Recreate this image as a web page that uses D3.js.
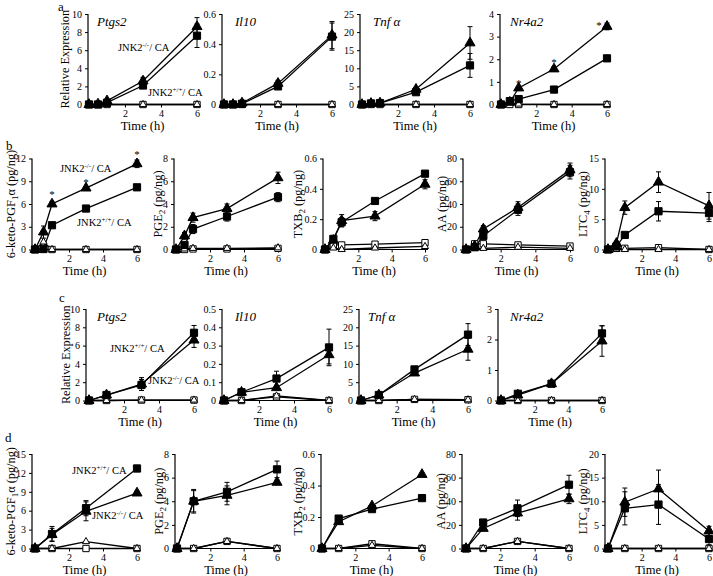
<!DOCTYPE html>
<html>
<head>
<meta charset="utf-8">
<script src="https://cdn.jsdelivr.net/npm/d3@7"></script>
<style>
  body { margin: 0; background: #fff; }
  svg text { font-family: "Liberation Serif", "DejaVu Serif", "Times New Roman", serif; fill: #000; }
</style>
</head>
<body>
<svg id="fig" width="713" height="576" font-family="Liberation Serif, DejaVu Serif, serif"></svg>
<script>
// time points
const timesAB = [0, 0.5, 1, 3, 6];
const timesCD = [0, 1, 3, 6];
const xTicks = [2, 4, 6];

// y tick labels
const ticks10 = [0, 2, 4, 6, 8, 10];
const ticks06 = [0, 0.2, 0.4, 0.6];
const ticks05 = [0, 0.1, 0.2, 0.3, 0.4, 0.5];
const ticks25 = [0, 5, 10, 15, 20, 25];
const ticks4 = [0, 1, 2, 3, 4];
const ticks3 = [0, 1, 2, 3];
const ticks12 = [0, 3, 6, 9, 12];
const ticks15s3 = [0, 3, 6, 9, 12, 15];
const ticks8 = [0, 2, 4, 6, 8];
const ticks80 = [0, 20, 40, 60, 80];
const ticks15 = [0, 5, 10, 15];
const ticks20 = [0, 5, 10, 15, 20];

const zeros5 = [0, 0, 0, 0, 0];
const zeros4 = [0, 0, 0, 0];

// ---- a: expression, JNK2+/+ vs JNK2-/- macrophages ----
const aPtgs2Wt = [0, 0, 0.2, 2.1, 7.6],      aPtgs2WtErr = [0, 0, 0.1, 0.3, 1.3];
const aPtgs2Ko = [0, 0.05, 0.4, 2.6, 8.6],   aPtgs2KoErr = [0, 0, 0.1, 0.4, 1.0];
const aIl10Wt = [0, 0, 0.005, 0.12, 0.45],   aIl10WtErr = [0, 0, 0, 0.02, 0.09];
const aIl10Ko = [0, 0, 0.01, 0.14, 0.46],    aIl10KoErr = [0, 0, 0, 0.02, 0.09];
const aTnfWt = [0, 0.3, 0.4, 3.4, 10.8],     aTnfWtErr = [0, 0, 0, 0.5, 3.3];
const aTnfKo = [0, 0.3, 0.4, 4.2, 17],       aTnfKoErr = [0, 0, 0, 0.5, 4.5];
const aNr4a2Wt = [0, 0.15, 0.24, 0.66, 2.04], aNr4a2WtErr = [0, 0, 0.03, 0.03, 0.05];
const aNr4a2Ko = [0, 0.1, 0.73, 1.57, 3.45],  aNr4a2KoErr = [0, 0, 0.06, 0.1, 0.15];
const aNr4a2KoCtl = [0, 0.08, 0.02, 0, 0];

// ---- b: eicosanoids ----
const bKetoWt = [0, 0.1, 3.2, 5.4, 8.2],     bKetoWtErr = [0, 0, 0.2, 0.2, 0.2];
const bKetoKo = [0, 2.3, 6.0, 8.1, 11.3],    bKetoKoErr = [0, 0.8, 0.3, 0.2, 0.5];
const bKetoKoCtl = [0, 1.0, 0, 0, 0];
const bPge2Wt = [0, 0.4, 1.8, 2.9, 4.6],     bPge2WtErr = [0, 0.2, 0.4, 0.4, 0.4];
const bPge2Ko = [0, 1.2, 2.8, 3.6, 6.3],     bPge2KoErr = [0, 0.3, 0.4, 0.4, 0.5];
const bPge2WtCtl = [0, 0, 0.05, 0.05, 0.1],  bPge2KoCtl = [0, 0.05, 0.1, 0.1, 0.15];
const bTxb2Wt = [0, 0.07, 0.18, 0.32, 0.5],  bTxb2WtErr = [0, 0.02, 0.03, 0.01, 0.01];
const bTxb2Ko = [0, 0.06, 0.19, 0.22, 0.43], bTxb2KoErr = [0, 0.02, 0.04, 0.03, 0.03];
const bTxb2WtCtl = [0, 0.03, 0.03, 0.035, 0.045], bTxb2KoCtl = [0, 0.01, 0, 0.01, 0.02];
const bAaWt = [0, 2, 12, 35, 68],            bAaWtErr = [0, 1, 2, 5, 6];
const bAaKo = [0, 3, 18, 37, 70],            bAaKoErr = [0, 1, 3, 5, 6];
const bAaWtCtl = [0, 5, 5, 4, 3],            bAaKoCtl = [0, 1, 1, 2, 1];
const bLtc4Wt = [0, 0.5, 2.4, 6.3, 6.0],     bLtc4WtErr = [0, 0.2, 0.3, 1.6, 1.4];
const bLtc4Ko = [0, 1.0, 6.9, 11.1, 7.2],    bLtc4KoErr = [0, 0.3, 1.1, 1.7, 2.2];
const bLtc4WtCtl = [0, 0.2, 0.2, 0.3, 0];

// ---- c: expression ----
const cPtgs2Wt = [0, 0.6, 1.7, 7.4],   cPtgs2WtErr = [0, 0.1, 0.6, 0.8];
const cPtgs2Ko = [0, 0.6, 1.8, 6.6],   cPtgs2KoErr = [0, 0.1, 0.7, 0.8];
const cPtgs2Ctl = [0, 0, 0.05, 0.05];
const cIl10Wt = [0, 0.045, 0.12, 0.29], cIl10WtErr = [0, 0.003, 0.04, 0.1];
const cIl10Ko = [0, 0.045, 0.07, 0.25], cIl10KoErr = [0, 0.003, 0.01, 0.05];
const cIl10WtCtl = [0, 0, 0.02, 0],     cIl10KoCtl = [0, 0, 0.025, 0];
const cTnfWt = [0, 1.5, 8.5, 18],       cTnfWtErr = [0, 0.3, 0.5, 3];
const cTnfKo = [0, 1.5, 7.5, 14],       cTnfKoErr = [0, 0.3, 0.5, 3];
const cTnfCtl = [0, 0, 0.3, 0.2];
const cNr4a2Wt = [0, 0.22, 0.55, 2.2],  cNr4a2WtErr = [0, 0.03, 0.03, 0.25];
const cNr4a2Ko = [0, 0.18, 0.55, 1.95], cNr4a2KoErr = [0, 0.03, 0.03, 0.5];

// ---- d: eicosanoids ----
const dKetoWt = [0, 2.3, 6.4, 12.7],   dKetoWtErr = [0, 1.2, 1.2, 0.5];
const dKetoKo = [0, 2.2, 5.9, 8.8],    dKetoKoErr = [0, 1.0, 1.5, 0.3];
const dKetoKoCtl = [0, 0, 1.1, 0];
const dPge2Wt = [0, 4.0, 4.8, 6.7],    dPge2WtErr = [0, 1.0, 0.8, 0.7];
const dPge2Ko = [0, 4.0, 4.5, 5.6],    dPge2KoErr = [0, 0.9, 0.8, 0.2];
const dPge2Ctl = [0, 0, 0.6, 0];
const dTxb2Wt = [0, 0.19, 0.25, 0.32], dTxb2WtErr = [0, 0.01, 0.01, 0.01];
const dTxb2Ko = [0, 0.17, 0.27, 0.47], dTxb2KoErr = [0, 0.01, 0.01, 0.01];
const dTxb2WtCtl = [0, 0, 0.03, 0],    dTxb2KoCtl = [0, 0, 0.02, 0];
const dAaWt = [0, 22, 34, 54],         dAaWtErr = [0, 2, 7, 8];
const dAaKo = [0, 17, 30, 42],         dAaKoErr = [0, 2, 6, 4];
const dAaCtl = [0, 0, 6, 0];
const dLtc4Wt = [0, 8.5, 9.3, 2.0],    dLtc4WtErr = [0, 3.5, 4.2, 1.2];
const dLtc4Ko = [0, 9.8, 12.6, 3.7],   dLtc4KoErr = [0, 3, 4, 1];

// helper to bundle the four series of a panel
function sets(wt, wtErr, ko, koErr, wtCtl, koCtl) {
  return { wtCtl: wtCtl, koCtl: koCtl, koCA: ko, koErr: koErr, wtCA: wt, wtErr: wtErr };
}

const rowA = { y0: 104.5, yTop: 14 };
const rowB = { y0: 249.5, yTop: 158.5 };
const rowC = { y0: 400.5, yTop: 309 };
const rowD = { y0: 548.5, yTop: 454 };

const ketoLabel = [["6-keto-PGF"], ["1", "sub"], ["\u03b1 (pg/ng)"]];
const pge2Label = [["PGE"], ["2", "sub"], [" (pg/ng)"]];
const txb2Label = [["TXB"], ["2", "sub"], [" (pg/ng)"]];
const aaLabel = [["AA (pg/ng)"]];
const ltc4Label = [["LTC"], ["4", "sub"], [" (pg/ng)"]];
const exprLabel = [["Relative Expression"]];

const panels = [
  // row a
  { row: rowA, ax: 88, x0: 89, x6: 197, t: timesAB, yTicks: ticks10, ylab: exprLabel, lx: 69, gene: "Ptgs2", gx: 97,
    s: sets(aPtgs2Wt, aPtgs2WtErr, aPtgs2Ko, aPtgs2KoErr, zeros5, zeros5) },
  { row: rowA, ax: 222, x0: 224, x6: 332, t: timesAB, yTicks: ticks06, gene: "Il10", gx: 235,
    s: sets(aIl10Wt, aIl10WtErr, aIl10Ko, aIl10KoErr, zeros5, zeros5) },
  { row: rowA, ax: 360, x0: 362, x6: 470, t: timesAB, yTicks: ticks25, gene: "Tnf \u03b1", gx: 373,
    s: sets(aTnfWt, aTnfWtErr, aTnfKo, aTnfKoErr, zeros5, zeros5) },
  { row: rowA, ax: 500, x0: 501, x6: 607, t: timesAB, yTicks: ticks4, gene: "Nr4a2", gx: 510,
    s: sets(aNr4a2Wt, aNr4a2WtErr, aNr4a2Ko, aNr4a2KoErr, zeros5, aNr4a2KoCtl),
    stars: [[1, 0.73, 0, -6], [3, 1.57, 0, -8], [6, 3.45, -8, -2]] },
  // row b
  { row: rowB, ax: 32, x0: 35, x6: 137, t: timesAB, yTicks: ticks12, ylab: ketoLabel, lx: 15,
    s: sets(bKetoWt, bKetoWtErr, bKetoKo, bKetoKoErr, zeros5, bKetoKoCtl),
    stars: [[1, 6.0, 0, -11], [3, 8.1, 0, -7], [6, 11.3, 0, -11]] },
  { row: rowB, ax: 174, x0: 176, x6: 278, t: timesAB, yTicks: ticks8, ylab: pge2Label, lx: 162,
    s: sets(bPge2Wt, bPge2WtErr, bPge2Ko, bPge2KoErr, bPge2WtCtl, bPge2KoCtl) },
  { row: rowB, ax: 323, x0: 325, x6: 425, t: timesAB, yTicks: ticks06, ylab: txb2Label, lx: 302,
    s: sets(bTxb2Wt, bTxb2WtErr, bTxb2Ko, bTxb2KoErr, bTxb2WtCtl, bTxb2KoCtl) },
  { row: rowB, ax: 463, x0: 466, x6: 570, t: timesAB, yTicks: ticks80, ylab: aaLabel, lx: 446,
    s: sets(bAaWt, bAaWtErr, bAaKo, bAaKoErr, bAaWtCtl, bAaKoCtl) },
  { row: rowB, ax: 605, x0: 608, x6: 709, t: timesAB, yTicks: ticks15, ylab: ltc4Label, lx: 587,
    s: sets(bLtc4Wt, bLtc4WtErr, bLtc4Ko, bLtc4KoErr, bLtc4WtCtl, zeros5) },
  // row c
  { row: rowC, ax: 86, x0: 89, x6: 194, t: timesCD, yTicks: ticks10, ylab: exprLabel, lx: 70, gene: "Ptgs2", gx: 97,
    s: sets(cPtgs2Wt, cPtgs2WtErr, cPtgs2Ko, cPtgs2KoErr, cPtgs2Ctl, cPtgs2Ctl) },
  { row: rowC, ax: 222, x0: 224, x6: 329, t: timesCD, yTicks: ticks05, gene: "Il10", gx: 235,
    s: sets(cIl10Wt, cIl10WtErr, cIl10Ko, cIl10KoErr, cIl10WtCtl, cIl10KoCtl) },
  { row: rowC, ax: 359, x0: 361, x6: 468, t: timesCD, yTicks: ticks25, gene: "Tnf \u03b1", gx: 368,
    s: sets(cTnfWt, cTnfWtErr, cTnfKo, cTnfKoErr, cTnfCtl, cTnfCtl) },
  { row: rowC, ax: 498, x0: 501, x6: 602, t: timesCD, yTicks: ticks3, gene: "Nr4a2", gx: 510,
    s: sets(cNr4a2Wt, cNr4a2WtErr, cNr4a2Ko, cNr4a2KoErr, zeros4, zeros4) },
  // row d
  { row: rowD, ax: 32, x0: 35, x6: 137, t: timesCD, yTicks: ticks15s3, ylab: ketoLabel, lx: 15,
    s: sets(dKetoWt, dKetoWtErr, dKetoKo, dKetoKoErr, zeros4, dKetoKoCtl) },
  { row: rowD, ax: 175, x0: 177, x6: 277, t: timesCD, yTicks: ticks8, ylab: pge2Label, lx: 163,
    s: sets(dPge2Wt, dPge2WtErr, dPge2Ko, dPge2KoErr, dPge2Ctl, dPge2Ctl) },
  { row: rowD, ax: 321, x0: 322, x6: 422, t: timesCD, yTicks: ticks06, ylab: txb2Label, lx: 302,
    s: sets(dTxb2Wt, dTxb2WtErr, dTxb2Ko, dTxb2KoErr, dTxb2WtCtl, dTxb2KoCtl) },
  { row: rowD, ax: 462, x0: 466, x6: 569, t: timesCD, yTicks: ticks80, ylab: aaLabel, lx: 445,
    s: sets(dAaWt, dAaWtErr, dAaKo, dAaKoErr, dAaCtl, dAaCtl) },
  { row: rowD, ax: 605, x0: 608, x6: 709, t: timesCD, yTicks: ticks20, ylab: ltc4Label, lx: 587,
    s: sets(dLtc4Wt, dLtc4WtErr, dLtc4Ko, dLtc4KoErr, zeros4, zeros4) }
];

// marker looks for each series
const markers = {
  wtCtl: { type: d3.symbolSquare, size: 40, fill: "#fff" },
  koCtl: { type: d3.symbolTriangle, size: 22, fill: "#fff" },
  koCA: { type: d3.symbolTriangle, size: 44, fill: "#000" },
  wtCA: { type: d3.symbolSquare, size: 52, fill: "#000" }
};
const order = ["wtCtl", "koCtl", "koCA", "wtCA"];
const serif = "Liberation Serif, DejaVu Serif, serif";

let svg = d3.select("#fig");

function drawPanel(p) {
  let y0 = p.row.y0, yTop = p.row.yTop;
  let yMax = p.yTicks[p.yTicks.length - 1];
  let x = d3.scaleLinear().domain([0, 6]).range([p.x0, p.x6]);
  let y = d3.scaleLinear().domain([0, yMax]).range([y0, yTop]);
  let g = svg.append("g");

  // y axis
  let yAxis = g.append("g")
    .attr("transform", `translate(${p.ax},0)`)
    .call(d3.axisLeft(y).tickValues(p.yTicks).tickSize(3).tickPadding(3).tickFormat(d3.format("~g")));
  // x axis
  let xAxis = g.append("g")
    .attr("transform", `translate(0,${y0})`)
    .call(d3.axisBottom(x).tickValues(xTicks).tickSize(3).tickPadding(2).tickFormat(d3.format("~g")));
  [yAxis, xAxis].forEach(a => {
    a.select(".domain").remove();
    a.attr("font-family", serif).attr("font-size", 10);
    a.selectAll("line").attr("stroke", "#000");
  });
  g.append("line").attr("x1", p.ax).attr("x2", p.ax).attr("y1", yTop).attr("y2", y0)
    .attr("stroke", "#000").attr("stroke-width", 1.2);
  g.append("line").attr("x1", p.ax).attr("x2", x(6) + 3).attr("y1", y0).attr("y2", y0)
    .attr("stroke", "#000").attr("stroke-width", 1.2);

  // x axis title
  g.append("text")
    .attr("x", (p.ax + x(6)) / 2).attr("y", y0 + 25)
    .attr("text-anchor", "middle").attr("font-size", 12.5).attr("font-family", serif)
    .text("Time (h)");

  // y axis title
  if (p.ylab) {
    let lab = g.append("text")
      .attr("transform", `translate(${p.lx},${(y0 + yTop) / 2}) rotate(-90)`)
      .attr("text-anchor", "middle").attr("font-size", 12.3).attr("font-family", serif);
    p.ylab.forEach(part => {
      let ts = lab.append("tspan").text(part[0]);
      if (part[1] === "sub") ts.attr("font-size", 9).attr("dy", 3);
      else if (lab.selectAll("tspan").size() > 1) ts.attr("dy", -3);
    });
  }

  // gene name
  if (p.gene) {
    g.append("text").attr("x", p.gx).attr("y", yTop + 12).attr("font-family", serif)
      .attr("font-size", 13).attr("font-style", "italic").text(p.gene);
  }

  let line = d3.line().x((d, i) => x(p.t[i])).y(d => y(d));

  // lines
  order.forEach(k => {
    g.append("path").datum(p.s[k])
      .attr("d", line).attr("fill", "none")
      .attr("stroke", "#000").attr("stroke-width", 1.3);
  });

  // error bars
  [["koCA", "koErr"], ["wtCA", "wtErr"]].forEach(([k, e]) => {
    p.s[k].forEach((v, i) => {
      let err = p.s[e][i];
      if (!err) return;
      let cx = x(p.t[i]);
      let lo = y(v - err), hi = y(v + err);
      g.append("line").attr("x1", cx).attr("x2", cx).attr("y1", lo).attr("y2", hi)
        .attr("stroke", "#000").attr("stroke-width", 1);
      [lo, hi].forEach(yy => {
        g.append("line").attr("x1", cx - 2.5).attr("x2", cx + 2.5).attr("y1", yy).attr("y2", yy)
          .attr("stroke", "#000").attr("stroke-width", 1);
      });
    });
  });

  // markers
  order.forEach(k => {
    let m = markers[k];
    g.selectAll(null).data(p.s[k]).enter().append("path")
      .attr("transform", (d, i) => `translate(${x(p.t[i])},${y(d)})`)
      .attr("d", d3.symbol().type(m.type).size(m.size)())
      .attr("fill", m.fill).attr("stroke", "#000").attr("stroke-width", 1);
  });

  // significance marks
  (p.stars || []).forEach(st => {
    g.append("text").attr("font-family", serif)
      .attr("x", x(st[0]) + st[2]).attr("y", y(st[1]) + st[3] + 5)
      .attr("text-anchor", "middle").attr("font-size", 11)
      .text("*");
  });
}

panels.forEach(drawPanel);

// group labels inside first panels
function jnkLabel(xp, yp, sup) {
  let t = svg.append("text").attr("x", xp).attr("y", yp)
    .attr("font-size", 10.5).attr("font-family", serif);
  t.append("tspan").text("JNK2");
  t.append("tspan").attr("font-size", 7).attr("dy", -4).text(sup);
  t.append("tspan").attr("dy", 4).text("/ CA");
}
jnkLabel(118, 51, "-/-");
jnkLabel(148, 96, "+/+");
jnkLabel(60, 172, "-/-");
jnkLabel(77, 226, "+/+");
jnkLabel(110, 352, "+/+");
jnkLabel(148, 384, "-/-");
jnkLabel(72, 474, "+/+");
jnkLabel(92, 519, "-/-");

// panel letters
[["a", 58, 11], ["b", 6, 150], ["c", 59, 302], ["d", 5, 442]].forEach(l => {
  svg.append("text").attr("x", l[1]).attr("y", l[2])
    .attr("font-family", serif).attr("font-size", 13).text(l[0]);
});
</script>
</body>
</html>
